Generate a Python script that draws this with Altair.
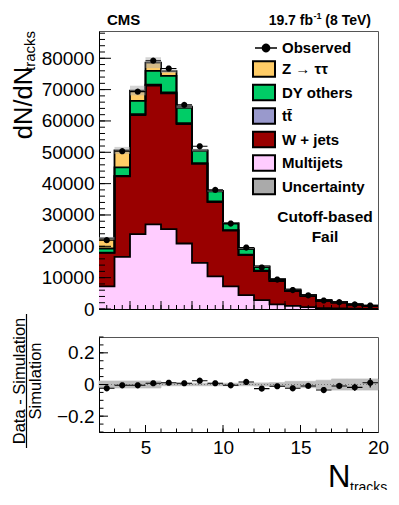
import altair as alt
import pandas as pd
import numpy as np

FONT = "Liberation Sans"

# ---------------- data ----------------
bin_low = list(range(2, 20))
multijets = [7250, 16600, 23900, 27000, 25500, 20900, 14700, 10400, 7250, 4400, 2800, 1500, 1000, 600, 300, 180, 100, 60]
wjets = [10650, 25700, 38000, 44300, 43300, 38100, 31600, 23700, 17750, 12800, 9300, 7400, 4750, 3500, 2280, 1850, 1280, 950]
ttbar = [100, 200, 300, 300, 300, 300, 250, 200, 150, 120, 100, 80, 60, 50, 40, 30, 20, 15]
dy_others = [1300, 2700, 4200, 4400, 5300, 4900, 3900, 3200, 2100, 1880, 1340, 480, 360, 230, 170, 130, 95, 70]
ztautau = [3200, 5400, 3300, 2600, 1500, 400, 250, 200, 150, 100, 60, 40, 30, 20, 10, 10, 5, 5]
ratio = [-0.024, -0.005, -0.005, 0.008, 0.011, 0.008, 0.024, 0.008, -0.005, 0.016, -0.026, -0.011, -0.024, -0.009, -0.035, -0.009, -0.018, 0.011]
ratio_err = [0.004, 0.003, 0.003, 0.003, 0.003, 0.003, 0.003, 0.004, 0.005, 0.006, 0.007, 0.009, 0.011, 0.013, 0.016, 0.018, 0.022, 0.030]
unc_frac = [0.022, 0.022, 0.022, 0.022, 0.008, 0.008, 0.008, 0.008, 0.008, 0.008, 0.010, 0.012, 0.020, 0.020, 0.027, 0.035, 0.035, 0.035]

legend_labels = ["Z \u2192 \u03c4\u03c4", "DY others", "tt\u0304", "W + jets", "Multijets", "Uncertainty"]
legend_colors = ["#ffcc66", "#00cc66", "#9999cc", "#990000", "#ffccff", "#aaaaaa"]
stack_order = ["Multijets", "W + jets", "tt\u0304", "DY others", "Z \u2192 \u03c4\u03c4"]
stack_values = [multijets, wjets, ttbar, dy_others, ztautau]

# ---------------- tables ----------------
n = len(bin_low)
area_rows, outline = [], []
cum = np.zeros(n)
for k, (name, vals) in enumerate(zip(stack_order, stack_values)):
    v = np.array(vals, dtype=float)
    top_v = cum + v
    for j in range(n + 1):
        idx = min(j, n - 1)
        area_rows.append(dict(x=bin_low[0] + j, y0=cum[idx], y1=top_v[idx], proc=name, order=k))
        outline.append(dict(x=bin_low[0] + j, y=top_v[idx], level=k))
    cum = top_v
area_df = pd.DataFrame(area_rows)
outline_df = pd.DataFrame(outline)
total = cum
centers = np.array(bin_low) + 0.5
obs = total * (1 + np.array(ratio))
unc = np.array(unc_frac)

band_df = pd.DataFrame(dict(lo=bin_low, hi=np.array(bin_low) + 1, y0=total * (1 - unc), y1=total * (1 + unc),
                            proc="Uncertainty"))
obs_df = pd.DataFrame(dict(c=centers, obs=obs, label="Observed"))
ratio_df = pd.DataFrame(dict(c=centers, r=ratio, lo_e=np.array(ratio) - np.array(ratio_err),
                             hi_e=np.array(ratio) + np.array(ratio_err)))
rband_df = pd.DataFrame(dict(lo=bin_low, hi=np.array(bin_low) + 1, y0=-unc, y1=unc))

# ---------------- scales / axes ----------------
W, H1, H2 = 279, 278, 95
xs = alt.Scale(domain=[2, 20], nice=False, zero=False)
ys = alt.Scale(domain=[0, 88700], nice=False, zero=False)
rs = alt.Scale(domain=[-0.3, 0.3], nice=False, zero=False)

top_x_axis = alt.Axis(labels=False, ticks=False, title=None, grid=False, domainColor="black")
top_y_axis = alt.Axis(values=list(range(0, 80001, 10000)), format="d", labelFont=FONT, labelFontSize=19,
                      labelColor="black", ticks=False, labelPadding=5, title=None, grid=False,
                      domainColor="black", labelFlush=False, labelOverlap=False)
bot_x_axis = alt.Axis(values=[5, 10, 15, 20], format="d", labelFont=FONT, labelFontSize=19, labelColor="black",
                      ticks=False, labelPadding=6, title=None, grid=False, domainColor="black",
                      labelFlush=False, labelOverlap=False)
bot_y_axis = alt.Axis(values=[-0.2, 0, 0.2], format=".1~f", labelFont=FONT, labelFontSize=19, labelColor="black",
                      ticks=False, labelPadding=5, title=None, grid=False, domainColor="black",
                      labelFlush=False, labelOverlap=False)


def TX(f):
    return alt.X(f, scale=xs, axis=top_x_axis)


def TY(f):
    return alt.Y(f, scale=ys, axis=top_y_axis, stack=False)


def BX(f):
    return alt.X(f, scale=xs, axis=bot_x_axis)


def BY(f):
    return alt.Y(f, scale=rs, axis=bot_y_axis)


# marker: thin horizontal bar (bin width) with a filled dot (polygon)
ang = np.linspace(0, 2 * np.pi, 20, endpoint=False)
dot = "M" + "L".join(f"{0.4 * np.cos(a):.3f},{0.4 * np.sin(a):.3f}" for a in ang) + "Z"
obs_path = "M-1,-0.07H1V0.07H-1Z " + dot

fill_scale = alt.Scale(domain=legend_labels, range=legend_colors)
fill_legend = alt.Legend(title=None, orient="none", legendX=156, legendY=29,
                         symbolType="M-1.375,-0.96H1.375V0.96H-1.375Z", symbolSize=256, symbolStrokeColor="black",
                         symbolStrokeWidth=2, symbolOpacity=1, labelFont=FONT, labelFontWeight="bold",
                         labelFontSize=15, labelColor="black", labelOffset=9, rowPadding=-0.5, padding=0)
obs_legend = alt.Legend(title=None, orient="none", legendX=156, legendY=6, symbolSize=484,
                        symbolFillColor="black", symbolStrokeWidth=0, symbolOpacity=1, labelFont=FONT,
                        labelFontWeight="bold", labelFontSize=15, labelColor="black", labelOffset=5, padding=0)


def text_layer(txt, x, y, size, weight="normal", align="left", angle=0, font=FONT):
    return alt.Chart(pd.DataFrame({"t": [txt]})).mark_text(
        font=font, fontSize=size, fontWeight=weight, align=align, baseline="alphabetic",
        angle=angle, color="black").encode(text="t:N", x=alt.value(x), y=alt.value(y))


def xtick_layer(vals, length, H, XF):
    return alt.Chart(pd.DataFrame({"v": vals})).mark_rule(color="black", strokeWidth=1).encode(
        x=XF("v:Q"), y=alt.value(H), y2=alt.value(H - length))


def ytick_layer(vals, length, YF):
    return alt.Chart(pd.DataFrame({"v": vals})).mark_rule(color="black", strokeWidth=1).encode(
        y=YF("v:Q"), x=alt.value(0), x2=alt.value(length))


# ---------------- top panel ----------------
stack = alt.Chart(area_df).mark_area(interpolate="step-after", opacity=1).encode(
    x=TX("x:Q"), y=TY("y0:Q"), y2="y1:Q",
    fill=alt.Fill("proc:N", scale=fill_scale, legend=fill_legend),
    order=alt.Order("order:Q"))
outline_l = alt.Chart(outline_df).mark_line(interpolate="step-after", color="black", strokeWidth=1.8).encode(
    x=TX("x:Q"), y=TY("y:Q"), detail="level:N")
band = alt.Chart(band_df).mark_rect(opacity=0.5).encode(
    x=TX("lo:Q"), x2="hi:Q", y=TY("y0:Q"), y2="y1:Q",
    fill=alt.Fill("proc:N", scale=fill_scale, legend=fill_legend))
points = alt.Chart(obs_df).mark_point(filled=True, size=239, color="black", opacity=1).encode(
    x=TX("c:Q"), y=TY("obs:Q"),
    shape=alt.Shape("label:N", scale=alt.Scale(domain=["Observed"], range=[obs_path]), legend=obs_legend))

top = alt.layer(
    stack, outline_l, band, points,
    xtick_layer(list(np.arange(2.5, 20, 0.5)), 4, H1, TX),
    xtick_layer([4, 6, 8, 10, 12, 14, 16, 18], 8, H1, TX),
    ytick_layer(list(range(0, 88001, 2000)), 6, TY),
    ytick_layer(list(range(0, 80001, 10000)), 12, TY),
    text_layer("CMS", 8, -6, 15, "bold"),
    text_layer("19.7 fb", 214, -6, 14, "bold", align="right"),
    text_layer("-1", 214.5, -12, 9, "bold"),
    text_layer("(8 TeV)", 272, -6, 14, "bold", align="right"),
    text_layer("Cutoff-based", 226, 191, 15.5, "bold", align="center"),
    text_layer("Fail", 226, 211, 15.5, "bold", align="center"),
    text_layer("dN/dN", -67, 72, 25.5, align="center", angle=270),
    text_layer("tracks", -64, 20, 15, align="center", angle=270),
).properties(width=W, height=H1)

# ---------------- ratio panel ----------------
rband = alt.Chart(rband_df).mark_rect(color="#bdbdbd", stroke="#bdbdbd", strokeWidth=0.7).encode(
    x=BX("lo:Q"), x2="hi:Q", y=BY("y0:Q"), y2="y1:Q")
zero = alt.Chart(pd.DataFrame({"z": [0.0]})).mark_rule(color="#777777", strokeDash=[1, 2], strokeWidth=1).encode(
    y=BY("z:Q"), x=alt.value(0), x2=alt.value(W))
rerr = alt.Chart(ratio_df).mark_rule(color="black", strokeWidth=1.3).encode(
    x=BX("c:Q"), y=BY("lo_e:Q"), y2="hi_e:Q")
rpts = alt.Chart(ratio_df).mark_point(filled=True, size=239, color="black", opacity=1,
                                      shape=obs_path).encode(x=BX("c:Q"), y=BY("r:Q"))
frac_bar = alt.Chart(pd.DataFrame({"z": [0]})).mark_rule(color="black", strokeWidth=1.2).encode(
    x=alt.value(-72.5), y=alt.value(-23), y2=alt.value(111))

bottom = alt.layer(
    rband, zero, rerr, rpts,
    xtick_layer(list(range(3, 20)), 3.5, H2, BX),
    xtick_layer([5, 10, 15], 7, H2, BX),
    ytick_layer(list(np.round(np.arange(-0.3, 0.301, 0.05), 2)), 4.5, BY),
    ytick_layer([-0.2, 0, 0.2], 9, BY),
    text_layer("Data - Simulation", -74.5, 44, 16.5, align="center", angle=270),
    frac_bar,
    text_layer("Simulation", -58, 44, 16.5, align="center", angle=270),
    text_layer("N", 229, 150, 31),
    text_layer("tracks", 251, 155, 14),
).properties(width=W, height=H2)

chart = alt.vconcat(top, bottom, spacing=28, bounds="flush").properties(
    autosize=alt.AutoSizeParams(type="none"),
    padding={"left": 91, "top": 23, "right": 13, "bottom": 459},
).configure_view(stroke="#555555", strokeWidth=1).configure_axis(domainColor="black", domainWidth=1)

chart.save("out.html", embed_options={"renderer": "svg", "actions": False})
